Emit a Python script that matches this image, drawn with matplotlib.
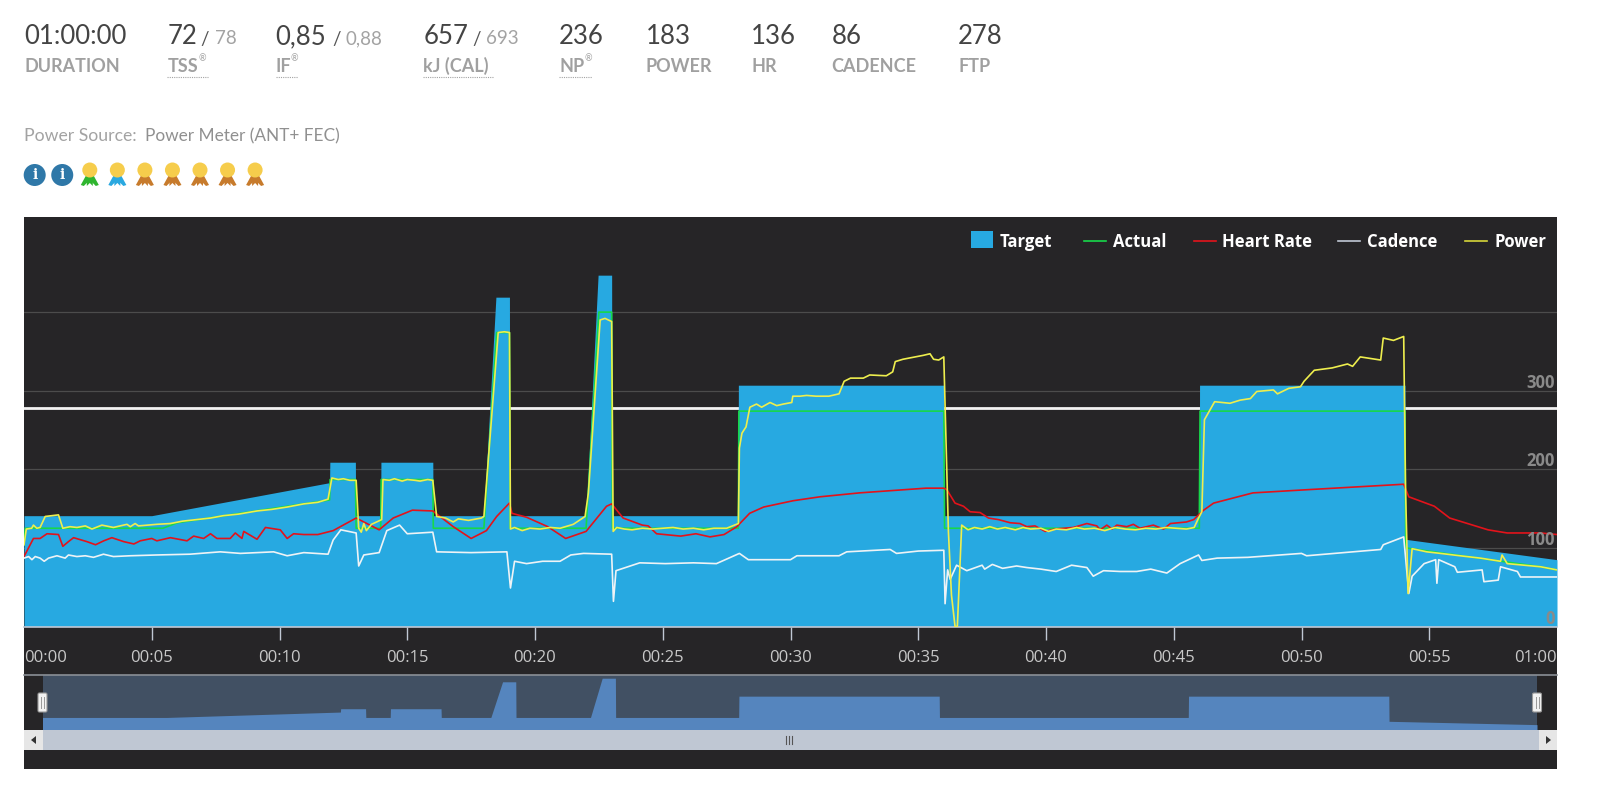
import matplotlib
matplotlib.use("Agg")
import matplotlib.pyplot as plt
from matplotlib.patches import Circle, Polygon, Rectangle, FancyBboxPatch

W, H = 1600, 805

# workout data, minutes / watts (bpm, rpm)
target_t = [0, 5, 11.96, 11.97, 12.97, 12.98, 13.96, 13.97, 16.0, 16.01, 18.0, 18.47, 19.0, 19.01, 22.0, 22.47, 23.0, 23.01,
            27.95, 27.96, 36.0, 36.01, 46.0, 46.01, 54.05, 54.06, 60]
target_w = [141, 141, 183, 209, 209, 141, 141, 209, 209, 141, 141, 419, 419, 141, 141, 447, 447, 141,
            141, 307, 307, 141, 141, 307, 307, 111, 85]

actual_t = [0, 0.05, 5.44, 6.0, 11.96, 11.98, 12.97, 13.0, 13.96, 13.98, 16.0, 16.02, 18.0, 18.5, 19.0, 19.03, 22.0, 22.5, 23.0, 23.03,
            27.96, 27.98, 36.0, 36.03, 46.0, 46.03, 54.05, 54.08, 59.36, 60]
actual_w = [104, 125, 125, 132, 161, 187, 187, 125, 125, 187, 187, 125, 125, 374, 374, 125, 125, 400, 400, 125,
            125, 274, 274, 125, 125, 274, 274, 100, 76, 72]

power_t = [0.0, 0.09, 0.3, 0.37, 0.5, 0.63, 0.83, 1.35, 1.52, 1.8, 2.07, 2.4, 2.66, 3.05, 3.5, 4.03, 4.16, 4.35, 4.48, 5.2,
           5.73, 6.2, 6.77, 7.3, 7.8, 8.4, 9.12, 9.7, 10.3, 10.95, 11.5, 11.9, 12.05, 12.3, 12.5, 12.75, 13.0, 13.1, 13.2, 13.3,
           13.4, 13.6, 14.0, 14.05, 14.3, 14.5, 14.8, 15.0, 15.3, 15.5, 15.8, 16.0, 16.15, 16.5, 16.8, 17.0, 17.4, 17.9, 18.0, 18.56,
           18.8, 19.0, 19.04, 19.2, 19.5, 19.8, 20.2, 20.6, 20.98, 21.5, 21.96, 22.09, 22.55, 22.74, 23.0, 23.06, 23.2, 23.5, 23.8, 24.2,
           24.6, 25.0, 25.4, 25.8, 26.2, 26.6, 27.0, 27.5, 27.96, 28.0, 28.1, 28.26, 28.41, 28.67, 28.87, 29.2, 29.46, 29.72, 30.05, 30.09,
           30.37, 30.63, 31.0, 31.5, 31.9, 32.1, 32.35, 32.85, 33.1, 33.75, 34.0, 34.1, 34.4, 35.2, 35.46, 35.6, 35.8, 36.0, 36.18, 36.3,
           36.44, 36.53, 36.7, 36.95, 37.2, 37.5, 37.8, 38.1, 38.4, 38.8, 39.1, 39.4, 39.8, 40.1, 40.4, 40.8, 41.2, 41.5, 41.9, 42.3,
           42.7, 43.1, 43.5, 43.9, 44.3, 44.7, 45.1, 45.5, 45.8, 45.97, 46.1, 46.2, 46.6, 47.2, 47.6, 48.0, 48.25, 48.9, 49.06, 49.5,
           49.96, 50.1, 50.5, 51.2, 51.8, 52.0, 52.3, 52.7, 53.1, 53.2, 53.6, 54.0, 54.07, 54.17, 54.33, 54.9, 55.44, 56.2, 57.0, 57.79,
           57.85, 58.05, 59.36, 60]
power_w = [104, 124, 125, 129, 125, 126, 140, 142, 125, 127, 126, 128, 124, 129, 126, 130, 127, 131, 128, 130,
           131, 134, 136, 138, 141, 143, 147, 149, 152, 156, 158, 162, 189, 187, 188, 186, 186, 125, 120, 131,
           122, 130, 136, 187, 186, 188, 185, 187, 186, 185, 187, 186, 140, 138, 133, 137, 135, 138, 140, 374,
           375, 374, 124, 126, 122, 125, 124, 126, 125, 130, 140, 170, 390, 392, 388, 121, 126, 124, 123, 125,
           124, 125, 126, 124, 125, 123, 125, 125, 131, 227, 246, 254, 279, 283, 279, 285, 281, 283, 285, 293,
           293, 294, 293, 293, 296, 312, 316, 316, 320, 319, 324, 337, 340, 345, 347, 340, 339, 343, 121, 40,
           0, 0, 129, 123, 126, 124, 127, 124, 126, 123, 126, 124, 125, 121, 124, 123, 126, 124, 125, 122,
           126, 124, 123, 125, 124, 126, 125, 124, 126, 138, 146, 263, 286, 284, 288, 290, 299, 301, 296, 303,
           305, 312, 326, 329, 334, 331, 343, 341, 339, 367, 364, 369, 178, 42, 99, 95, 93, 90, 87, 83,
           91, 80, 76, 72]

hr_t = [0, 0.37, 0.63, 0.9, 1.35, 1.52, 1.74, 1.94, 2.46, 2.8, 3.12, 3.44, 3.9, 4.3, 4.55, 5.0, 5.2, 5.73, 6.38, 6.64,
        7.03, 7.3, 7.55, 8.07, 8.27, 8.53, 8.6, 9.12, 9.45, 10.03, 10.3, 10.55, 10.95, 11.5, 12.1, 13.0, 13.9, 14.45, 15.2, 16.0,
        16.8, 17.5, 18.1, 18.5, 19.0, 19.1, 19.67, 20.5, 21.2, 22.0, 22.8, 23.0, 23.45, 24.2, 24.43, 24.76, 25.7, 26.3, 26.85, 27.4,
        27.9, 28.4, 28.95, 30.1, 31.15, 32.7, 34.0, 35.3, 36.0, 36.12, 36.44, 36.77, 37.03, 37.42, 37.75, 38.14, 38.6, 38.98, 39.25, 39.57,
        39.97, 40.36, 41.07, 41.6, 41.99, 42.12, 42.38, 42.58, 42.77, 43.16, 43.42, 43.68, 44.2, 44.6, 44.87, 45.5, 45.78, 46.17, 46.56, 48.1,
        50.2, 54.0, 54.2, 55.2, 55.8, 57.3, 58.05, 59.36, 60]
hr_bpm = [89, 112, 112, 118, 117, 102, 108, 113, 108, 104, 109, 113, 108, 105, 109, 112, 109, 113, 109, 115,
          112, 118, 112, 112, 119, 112, 121, 111, 126, 123, 112, 118, 117, 117, 122, 138, 123, 138, 148, 147,
          127, 112, 122, 140, 157, 144, 139, 127, 112, 121, 153, 156, 138, 129, 128, 118, 115, 118, 114, 117,
          127, 144, 152, 160, 165, 170, 173, 176, 176, 174, 157, 153, 146, 145, 138, 136, 132, 131, 127, 128,
          121, 124, 126, 131, 128, 123, 129, 124, 129, 127, 130, 125, 129, 124, 131, 133, 136, 148, 157, 170,
          174, 181, 165, 153, 138, 123, 119, 119, 117]

cad_t = [0, 0.18, 0.31, 0.44, 0.63, 0.79, 0.96, 1.29, 1.61, 1.74, 2.07, 2.4, 2.72, 3.11, 3.5, 4.16, 5.2, 6.5, 7.68, 8.47,
         9.77, 10.3, 10.95, 11.9, 12.1, 12.4, 13.0, 13.1, 13.3, 13.9, 14.2, 14.7, 15.0, 16.0, 16.15, 17.5, 18.9, 19.04, 19.2, 19.67,
         20.3, 20.98, 21.4, 21.9, 23.0, 23.07, 23.17, 24.1, 25.1, 26.2, 27.1, 28.0, 28.35, 30.0, 30.25, 31.9, 32.2, 33.9, 34.15, 35.0,
         36.0, 36.05, 36.15, 36.25, 36.5, 36.9, 37.5, 37.6, 37.9, 38.3, 38.85, 39.25, 39.8, 40.4, 41.0, 41.6, 41.85, 42.25, 42.9, 43.55,
         44.1, 44.73, 45.25, 45.97, 46.1, 46.7, 47.9, 50.0, 50.2, 53.1, 53.2, 54.0, 54.2, 54.33, 54.8, 55.25, 55.3, 55.37, 56.0, 56.1,
         57.07, 57.14, 57.7, 57.79, 58.45, 58.57, 59.36, 60]
cad_rpm = [87, 89, 85, 89, 87, 83, 87, 90, 87, 91, 89, 90, 88, 92, 89, 90, 91, 92, 95, 93,
           95, 90, 94, 92, 110, 123, 119, 77, 91, 94, 122, 129, 118, 120, 95, 94, 95, 49, 83, 80,
           83, 83, 91, 93, 92, 32, 71, 81, 80, 81, 80, 93, 85, 85, 90, 90, 95, 98, 93, 96,
           97, 29, 72, 60, 78, 71, 78, 73, 79, 74, 77, 75, 73, 70, 78, 75, 64, 71, 70, 70,
           73, 68, 80, 91, 84, 87, 88, 93, 90, 98, 104, 114, 42, 64, 80, 85, 55, 85, 76, 69,
           72, 57, 59, 76, 70, 63, 63, 63]

ftp_w = 278
y_grid = [100, 200, 300, 400]
y_labels = [0, 100, 200, 300]
x_ticks = list(range(0, 61, 5))
x_labels = ["00:00", "00:05", "00:10", "00:15", "00:20", "00:25", "00:30", "00:35", "00:40", "00:45", "00:50", "00:55", "01:00"]

# header stats: value, second value, label, view x of each
stats = [("01:00:00", None, "DURATION", 24), ("72", "78", "TSS", 164), ("0,85", "0,88", "IF", 270),
         ("657", "693", "kJ (CAL)", 415), ("236", None, "NP", 548), ("183", None, "POWER", 633),
         ("136", None, "HR", 736), ("86", None, "CADENCE", 815), ("278", None, "FTP", 939)]
slash_x = {"TSS": (196, 211), "IF": (326, 339), "kJ (CAL)": (463, 476)}
underlined = {"TSS": (164, 204), "IF": (270, 292), "kJ (CAL)": (415, 483), "NP": (548, 580)}
registered = {"TSS": 195, "IF": 285, "NP": 573}

BG = "#262527"
BLUE = "#27a9e1"
GREEN = "#17d84a"
RED = "#e3131b"
YELLOW = "#eeee4e"
VIEW = 1.0204  # header positions were read at a slightly smaller scale


def px_axes(fig, x0, y0, x1, y1, **kw):
    return fig.add_axes([x0 / W, 1 - y1 / H, (x1 - x0) / W, (y1 - y0) / H], **kw)


def overlay(fig, z):
    a = px_axes(fig, 0, 0, W, H, zorder=z)
    a.set_xlim(0, W)
    a.set_ylim(H, 0)
    a.axis("off")
    a.patch.set_alpha(0)
    return a


fig = plt.figure(figsize=(W / 100, H / 100), dpi=100, facecolor="white")

# dark panel goes under the plots, everything else on a pixel overlay above
base = overlay(fig, 0)
base.add_patch(Rectangle((24, 217), 1533, 552, fc=BG, ec="none"))
bg = overlay(fig, 2)

for value, second, label, vx in stats:
    x = vx * VIEW
    bg.text(x, 36.5, value, family="Lato", fontsize=18.5, color="#444444", va="center", ha="left")
    bg.text(x, 66, label, family="Lato", fontsize=13, weight="bold", color="#a0a0a0", va="center", ha="left")
    if second:
        sx, nx = slash_x[label]
        bg.text(sx * VIEW, 39, "/", family="Lato", fontsize=13.5, color="#555555", va="center")
        bg.text(nx * VIEW, 39, second, family="Lato", fontsize=13.5, color="#a3a3a3", va="center")
    if label in underlined:
        a, b = underlined[label]
        bg.plot([a * VIEW, b * VIEW], [77.5, 77.5], color="#a3a3a3", lw=0.8, ls=(0, (1, 1)))
    if label in registered:
        bg.text(registered[label] * VIEW, 59, "®", family="Lato", fontsize=6.5, color="#a3a3a3", va="center")

bg.text(24.5, 136, "Power Source:", family="Lato", fontsize=12.7, color="#a3a3a3", va="center")
bg.text(145, 136, "Power Meter (ANT+ FEC)", family="Lato", fontsize=12.4, color="#909090", va="center")

# badges
for vx in (34, 61):
    cx = vx * VIEW
    bg.add_patch(Circle((cx, 175), 11, fc="#2f78a8", ec="none"))
    bg.text(cx, 175, "i", family="DejaVu Serif", weight="bold", fontsize=10, color="white", ha="center", va="center")
for vx, col in zip((88, 115, 142, 169, 196, 223, 250),
                   ("#2fb52f", "#2aa8e0", "#c77b2c", "#c77b2c", "#c77b2c", "#c77b2c", "#c77b2c")):
    cx = vx * VIEW
    bg.add_patch(Polygon([(cx - 3, 174), (cx - 9, 185), (cx - 6, 186), (cx - 1, 181)], fc=col, ec="none"))
    bg.add_patch(Polygon([(cx + 3, 174), (cx + 9, 185), (cx + 6, 186), (cx + 1, 181)], fc=col, ec="none"))
    bg.add_patch(Polygon([(cx - 3, 176), (cx + 3, 176), (cx + 3, 186), (cx, 183), (cx - 3, 186)], fc=col, ec="none"))
    bg.add_patch(Circle((cx, 170), 7.5, fc="#f6cd4c", ec="none"))

# main plot
ax = px_axes(fig, 24, 217, 1557, 626.5, zorder=1)
ax.set_facecolor(BG)
ax.set_xlim(0, 60)
ax.set_ylim(0, 521)
for spine in ("top", "left", "right"):
    ax.spines[spine].set_visible(False)
ax.spines["bottom"].set_color("#c0c8d4")
ax.spines["bottom"].set_linewidth(1.2)
for y in y_grid:
    ax.axhline(y, color="#4c4c4c", lw=0.9, zorder=1)
ax.axhline(ftp_w, color="#f2f2f2", lw=2, zorder=1.5)
ax.fill_between(target_t, target_w, 0, color=BLUE, lw=0, zorder=2)
ax.plot(actual_t, actual_w, color=GREEN, lw=1.2, zorder=3)
ax.plot(hr_t, hr_bpm, color=RED, lw=1.2, zorder=4)
ax.plot(cad_t, cad_rpm, color="#eef3f6", lw=1.2, zorder=5)
ax.plot(power_t, power_w, color=YELLOW, lw=1.2, zorder=6)

ax.set_yticks([])
ax.set_xticks(x_ticks)
ax.set_xticklabels(x_labels, family="Open Sans", fontsize=12, color="#c8c8c8")
ax.tick_params(axis="x", length=9.5, width=1, color="#c0c8d4", pad=7.5)
xt = ax.get_xticklabels()
xt[0].set_ha("left")
xt[-1].set_ha("right")
# no tick marks at the two ends
majors = ax.xaxis.get_major_ticks()
majors[0].tick1line.set_visible(False)
majors[-1].tick1line.set_visible(False)
for v in y_labels:
    ax.text(59.9, v + 10, str(v), family="Open Sans", fontsize=12, weight="bold", color="#8a8a8a",
            ha="right", va="center", zorder=7)

# legend, placed by hand like the original
ly = 242
bg.add_patch(Rectangle((971, 231), 22, 17, fc=BLUE, ec="none"))
for lab, x_text, x_line, col in (("Target", 1000, None, None), ("Actual", 1113, 1084, GREEN),
                                 ("Heart Rate", 1222, 1194, RED), ("Cadence", 1366.5, 1337.5, "#c0c8d4"),
                                 ("Power", 1495, 1465, "#d6d63a")):
    if x_line:
        bg.plot([x_line, x_line + 22], [ly - 1, ly - 1], color=col, lw=1.2)
    bg.text(x_text, ly, lab, family="Open Sans", weight="bold", fontsize=12, color="white", va="center", ha="left")

# navigator
nav = px_axes(fig, 42.5, 675, 1537, 729.5, zorder=3)
nav.set_facecolor("#415063")
nav.set_xlim(0, 60)
nav.set_ylim(47, 472)
nav.fill_between(target_t, target_w, 47, color="#5585be", lw=0)
nav.set_xticks([])
nav.set_yticks([])
for s in nav.spines.values():
    s.set_visible(False)

# scrollbar and handles
top = overlay(fig, 4)
top.plot([24, 1557], [675, 675], color="#8a8f96", lw=1.2)
top.add_patch(Rectangle((24, 730), 1533, 20, fc="#bfc7d3", ec="none"))
top.add_patch(Rectangle((24, 730), 18.5, 20, fc="#e6e6e6", ec="none"))
top.add_patch(Rectangle((1539, 730), 18, 20, fc="#e6e6e6", ec="none"))
top.add_patch(Polygon([(36, 736), (36, 744), (31, 740)], fc="#333333", ec="none"))
top.add_patch(Polygon([(1546, 736), (1546, 744), (1551, 740)], fc="#333333", ec="none"))
for dx in (-3, 0, 3):
    top.plot([789 + dx, 789 + dx], [736, 744], color="#555555", lw=0.8)
for hx in (42.5, 1537):
    top.add_patch(FancyBboxPatch((hx - 4.5, 693), 9, 19, boxstyle="round,pad=0,rounding_size=1.5", fc="#f2f2f2", ec="#999999", lw=0.8))
    for dx in (-1.5, 1.5):
        top.plot([hx + dx, hx + dx], [697, 708], color="#999999", lw=0.7)

fig.savefig("out.png", dpi=100, facecolor="white")
